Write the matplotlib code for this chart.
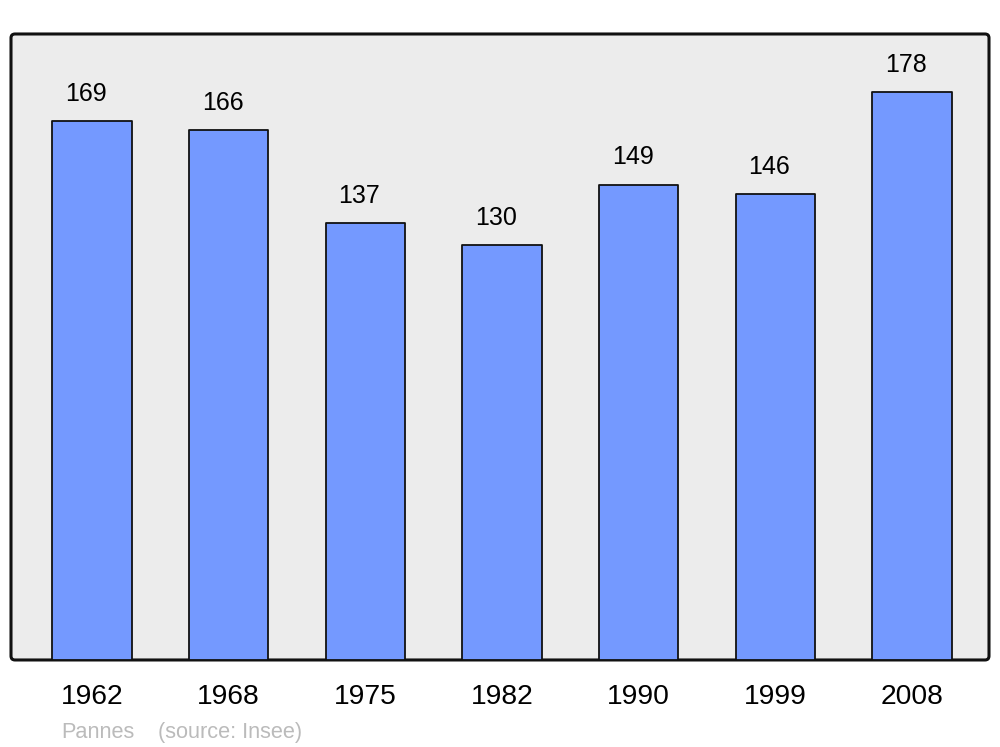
import numpy as np
import matplotlib.pyplot as plt
from matplotlib.patches import FancyBboxPatch

years = ["1962", "1968", "1975", "1982", "1990", "1999", "2008"]
population = [169, 166, 137, 130, 149, 146, 178]
commune = "Pannes"
source = "(source: Insee)"

plt.rcParams['font.family'] = ['Liberation Sans', 'DejaVu Sans']

fig = plt.figure(figsize=(10, 7.47), dpi=100)
ax = fig.add_axes([0.011, 0.1165, 0.978, 0.838])
ax.set_facecolor("none")

# rounded grey frame behind the bars
frame = FancyBboxPatch((0.011, 0.1165), 0.978, 0.838,
                       boxstyle="round,pad=0,rounding_size=0.004",
                       mutation_aspect=1000/747,
                       transform=fig.transFigure, facecolor="#ececec",
                       edgecolor="#111111", linewidth=2.2, zorder=0,
                       clip_on=False)
ax.add_artist(frame)

x = np.arange(len(years))
bars = ax.bar(x, population, width=0.58, color="#7499ff", edgecolor="#111111",
              linewidth=1.3, zorder=2)
for b in bars:
    b.set_joinstyle("round")

# value labels sit a bit left of the bar centre in the original
for xi, v in zip(x, population):
    ax.annotate(str(v), (xi, v), xytext=(-4.3, 19.5), textcoords="offset points",
                ha="center", va="center", fontsize=18, color="black")

ax.set_xlim(-0.593, 6.563)
ax.set_ylim(0, 196.2)
ax.set_xticks(x)
ax.set_xticklabels(years, fontsize=20.3)
ax.tick_params(axis="x", length=0, pad=17)
ax.set_yticks([])
for s in ax.spines.values():
    s.set_visible(False)

fig.text(0.061, 0.0195, commune, fontsize=15.7, color="#bbbbbb", va="center")
fig.text(0.158, 0.0195, source, fontsize=15.7, color="#bbbbbb", va="center")

fig.savefig("out.png", dpi=100)
